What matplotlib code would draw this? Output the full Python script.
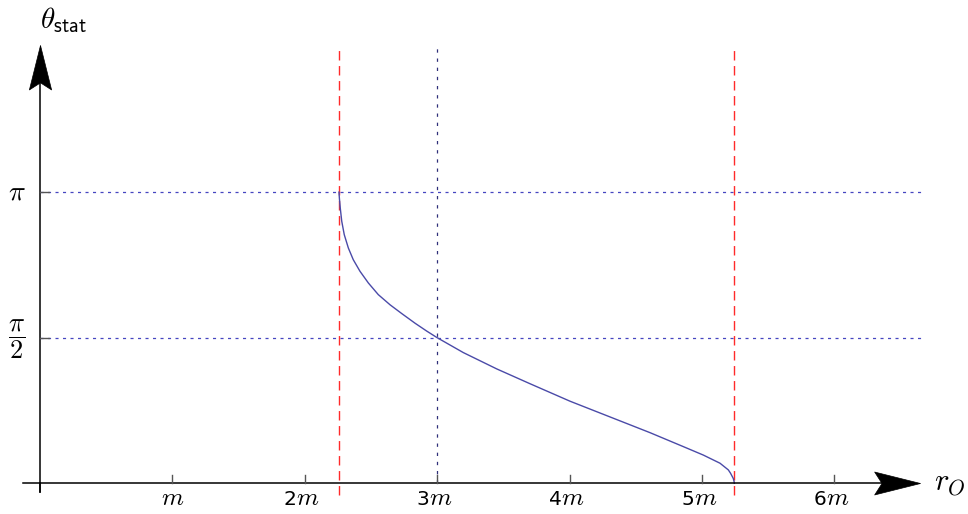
import numpy as np
import matplotlib
matplotlib.use("Agg")
import matplotlib.pyplot as plt
from matplotlib.path import Path

plt.rcParams['mathtext.fontset'] = 'cm'
plt.rcParams['font.family'] = 'DejaVu Sans'
plt.rcParams['lines.scale_dashes'] = False

# curve: r_O in units of m, theta_stat in units of pi
r_vals = [2.258, 2.262, 2.268, 2.279, 2.298, 2.329, 2.366, 2.417, 2.480, 2.555, 2.644,
          2.732, 2.832, 2.920, 3.000, 3.197, 3.449, 3.701, 4.003, 4.305, 4.607,
          4.859, 5.010, 5.136, 5.199, 5.215, 5.236, 5.242, 5.244]
theta_frac = [1.0, 0.975, 0.945, 0.900, 0.854, 0.808, 0.768, 0.728, 0.688, 0.648, 0.613,
              0.583, 0.550, 0.523, 0.500, 0.449, 0.393, 0.342, 0.282, 0.228, 0.174,
              0.126, 0.097, 0.069, 0.046, 0.035, 0.017, 0.007, 0.0]

r_inner = 2.258   # left red dashed line
r_photon = 3.0    # dotted line
r_outer = 5.244   # right red dashed line
xtick_vals = [1, 2, 3, 4, 5, 6]
xtick_digits = ['', '2', '3', '4', '5', '6']

r = np.array(r_vals)
theta = np.array(theta_frac) * np.pi

fig = plt.figure(figsize=(9.68, 5.14), dpi=100)
ax = fig.add_axes([0, 0, 1, 1])
ax.set_xlim(-0.302, 7.009)
ax.set_ylim(-0.331, 5.214)
ax.axis('off')

px = 1 / 132.4  # one pixel in x data units
x_tip = 6.647
y_tip = 4.729
y_top = 4.729

# reference lines
ax.plot([0, x_tip + 0.03], [np.pi, np.pi], color='#4646c0', lw=0.9, dashes=(2.2, 3.2))
ax.plot([0, x_tip + 0.03], [np.pi / 2, np.pi / 2], color='#4646c0', lw=0.9, dashes=(2.2, 3.2))
ax.plot([r_photon, r_photon], [0, y_top], color='#30307a', lw=0.9, dashes=(2.4, 4.2))
ax.plot([r_inner, r_inner], [-0.127, y_top], color='#ff2a2a', lw=1.0, dashes=(6.8, 4.0))
ax.plot([r_outer, r_outer], [-0.127, y_top], color='#ff2a2a', lw=1.0, dashes=(6.8, 4.0))

# the curve
ax.plot(r, theta, color='#4a4aa8', lw=1.0, solid_joinstyle='round')

# axes with arrows
ax.plot([-0.13, x_tip - 0.2], [0, 0], color='black', lw=1.1)
ax.plot([0, 0], [-0.097, y_tip - 0.2], color='black', lw=1.1)

right_head = Path([(0, 0), (-1, 0.25), (-0.84, 0), (-1, -0.25), (0, 0)],
                  [Path.MOVETO, Path.LINETO, Path.LINETO, Path.LINETO, Path.CLOSEPOLY])
up_head = Path([(0, 0), (-0.25, -1), (0, -0.84), (0.25, -1), (0, 0)],
               [Path.MOVETO, Path.LINETO, Path.LINETO, Path.LINETO, Path.CLOSEPOLY])
ax.plot([x_tip], [0], marker=right_head, ms=66, color='black', mew=0.5, linestyle='none')
ax.plot([0], [y_tip], marker=up_head, ms=64, color='black', mew=0.5, linestyle='none')

# ticks
base = -0.234
for xv, dig in zip(xtick_vals, xtick_digits):
    ax.plot([xv, xv], [0, 0.086], color='#555555', lw=1.0)
    if dig:
        ax.text(xv - 8 * px, base, dig, fontsize=14.5, ha='right', va='baseline')
        ax.text(xv - 8.5 * px, base, r'$m$', fontsize=18, ha='left', va='baseline')
    else:
        ax.text(xv, base, r'$m$', fontsize=18, ha='center', va='baseline')
ax.plot([0, 0], [0, -0.097], color='black', lw=1.1)
for yv in [np.pi / 2, np.pi]:
    ax.plot([0, 0.065], [yv, yv], color='#555555', lw=1.0)

ax.text(-0.175, np.pi + 0.01, r'$\pi$', fontsize=20, ha='center', va='center')
ax.text(-0.175, np.pi / 2 - 0.02, r'$\dfrac{\pi}{\mathsf{2}}$', fontsize=19, ha='center', va='center')

ax.text(0.18, 5.0, r'$\theta_{\mathsf{stat}}$', fontsize=21, ha='center', va='center')
ax.text(6.99, 0.0, r'$r_O$', fontsize=22, ha='right', va='center')

fig.savefig('out.png', dpi=100)
